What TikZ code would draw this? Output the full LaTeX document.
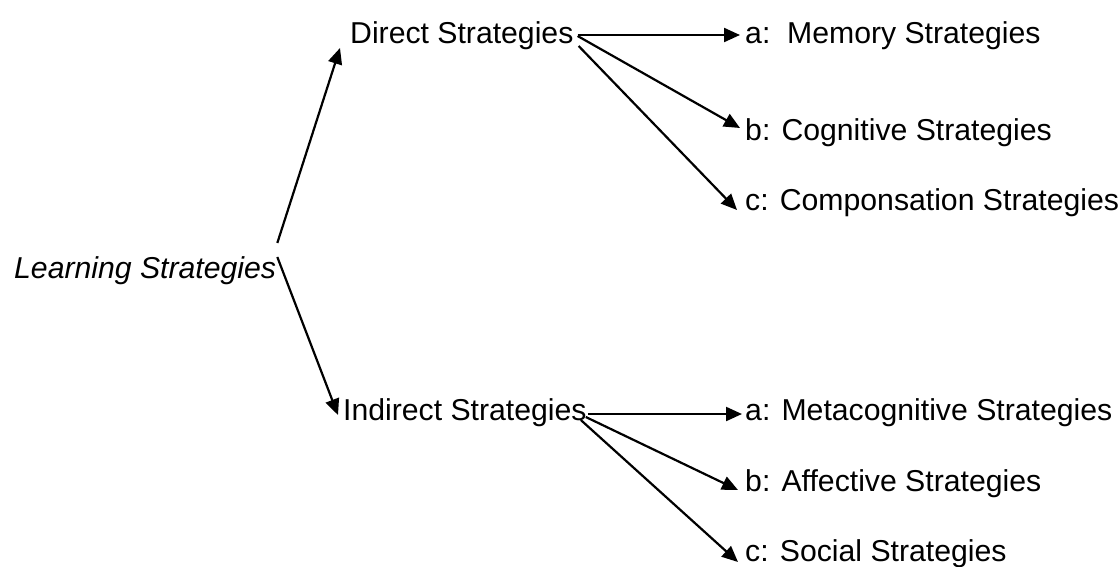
\documentclass[tikz,border=0pt]{standalone}
\usepackage{fontspec}
\setmainfont{Liberation Sans}
\usetikzlibrary{arrows.meta}
\begin{document}
\begin{tikzpicture}[x=1pt,y=-1pt,
  lbl/.style={anchor=base west,inner sep=0pt,font=\fontsize{30.2}{34}\selectfont},
  conn/.style={line width=2.2pt,-{Triangle[length=16pt,width=14pt]}}]
\useasboundingbox (0,0) rectangle (1119,566);
\node[lbl,font=\fontsize{30.2}{34}\selectfont\itshape] (learn) at (14,278) {Learning Strategies};
\node[lbl] (direct) at (350,43) {Direct Strategies};
\node[lbl] (indirect) at (343,420) {Indirect Strategies};
\node[lbl] (da) at (745,43) {a:\ \ Memory Strategies};
\node[lbl] (db) at (745,140) {b: Cognitive Strategies};
\node[lbl] (dc) at (745,210) {c: Componsation Strategies};
\node[lbl] (ia) at (745,420) {a: Metacognitive Strategies};
\node[lbl] (ib) at (745,491) {b: Affective Strategies};
\node[lbl] (ic) at (745,561) {c: Social Strategies};
% from Learning
\draw[conn] ([shift={(1,-35)}]learn.base east) -- ([shift={(-10,5)}]direct.base west);
\draw[conn] ([shift={(1,-21)}]learn.base east) -- ([shift={(-5,-5)}]indirect.base west);
% from Direct
\draw[conn] ([shift={(4,-8)}]direct.base east) -- ([shift={(-5,-8)}]da.base west);
\draw[conn] ([shift={(4,-7)}]direct.base east) -- ([shift={(-5,-12)}]db.base west);
\draw[conn] ([shift={(5,3)}]direct.base east) -- ([shift={(-8,0)}]dc.base west);
% from Indirect
\draw[conn] ([shift={(1,-6)}]indirect.base east) -- ([shift={(-3,-6)}]ia.base west);
\draw[conn] ([shift={(-1,-3)}]indirect.base east) -- ([shift={(-7,-1)}]ib.base west);
\draw[conn] ([shift={(-6,0)}]indirect.base east) -- ([shift={(-7,1)}]ic.base west);
\end{tikzpicture}
\end{document}
